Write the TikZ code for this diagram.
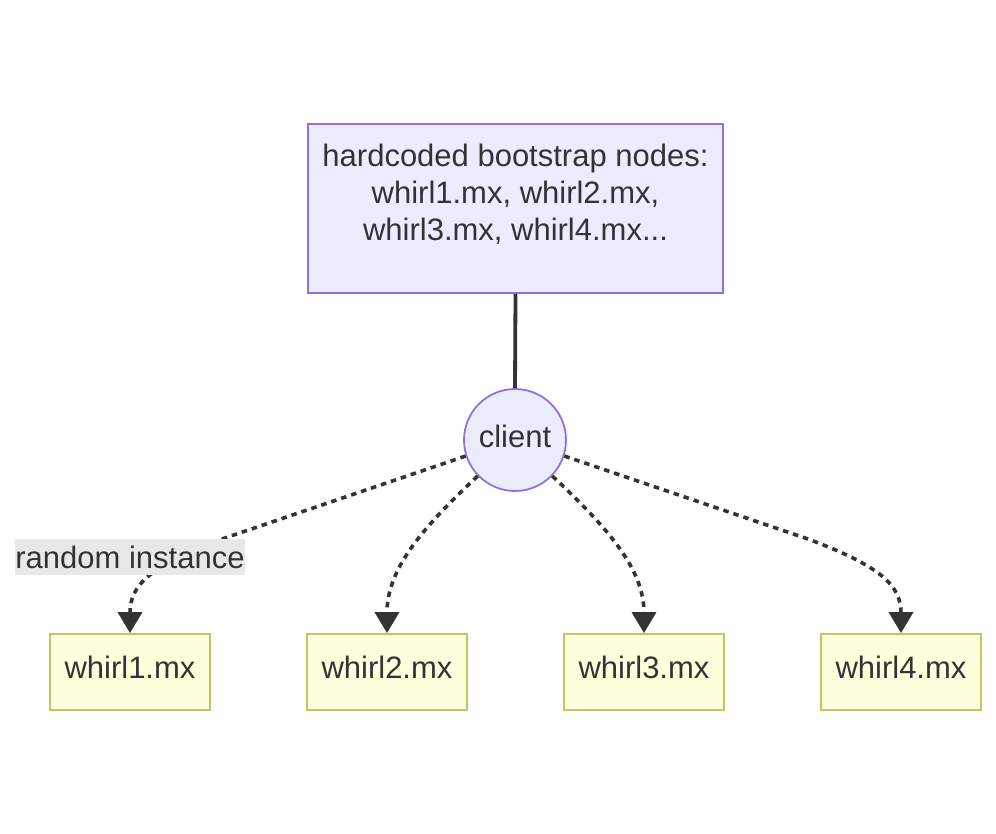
\documentclass[tikz,border=0pt]{standalone}
\usepackage{fontspec}
\setmainfont{Liberation Sans}
\usetikzlibrary{arrows.meta}
\definecolor{ink}{HTML}{333333}
\definecolor{purp}{HTML}{ECECFF}
\definecolor{purpline}{HTML}{9370DB}
\definecolor{yel}{HTML}{FFFFDE}
\definecolor{yelline}{HTML}{C3C36A}
\definecolor{lblbg}{HTML}{E8E8E8}
\tikzset{
  txt/.style={font=\fontsize{31pt}{37pt}\selectfont, text=ink, inner sep=0pt},
  topbox/.style={draw=purpline, fill=purp, line width=1.8pt, minimum width=415pt, minimum height=169pt, inner sep=0pt},
  circ/.style={circle, draw=purpline, fill=purp, line width=1.8pt, minimum size=102pt, inner sep=0pt},
  leaf/.style={draw=yelline, fill=yel, line width=1.8pt, minimum width=160pt, minimum height=76pt, inner sep=0pt},
  solidedge/.style={draw=ink, line width=3.8pt},
  dotedge/.style={draw=ink, line width=3.6pt, dash pattern=on 5.5pt off 5pt, -{Triangle[length=21pt,width=24pt]}},
}
\begin{document}
\begin{tikzpicture}[x=1pt,y=-1pt]
\useasboundingbox (0,0) rectangle (996,834);
\node[topbox] (top) at (515.5,208.5) {};
\node[txt, align=center] (toptext) at (515.5,194) {hardcoded bootstrap nodes:\\whirl1.mx, whirl2.mx,\\whirl3.mx, whirl4.mx...};
\node[circ] (client) at (515,440) {};
\node[txt] (clienttext) at (515,436) {client};
\node[leaf] (w1) at (130,672) {};
\node[leaf] (w2) at (387,672) {};
\node[leaf] (w3) at (644,672) {};
\node[leaf] (w4) at (901,672) {};
\node[txt] (t1) at (130,667) {whirl1.mx};
\node[txt] (t2) at (387,667) {whirl2.mx};
\node[txt] (t3) at (644,667) {whirl3.mx};
\node[txt] (t4) at (901,667) {whirl4.mx};
\coordinate (b1) at (222,539);
\coordinate (b4) at (808,539);
\draw[solidedge] (top.south) -- (client.north);
\draw[dotedge] (client.198) -- (b1) .. controls (150,566) and (130,585) .. (w1.north);
\draw[dotedge] (client.224) .. controls (420,530) and (387,570) .. (w2.north);
\draw[dotedge] (client.316) .. controls (610,530) and (644,570) .. (w3.north);
\draw[dotedge] (client.342) -- (b4) .. controls (880,566) and (901,585) .. (w4.north);
\node[txt, fill=lblbg, minimum width=230pt, minimum height=36pt] (lbl) at (130,557) {random instance};
\end{tikzpicture}
\end{document}
